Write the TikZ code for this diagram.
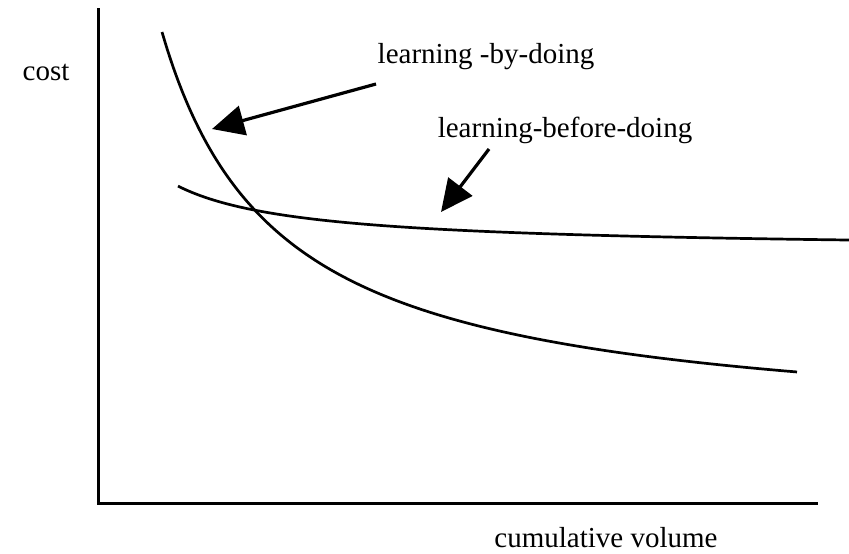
\documentclass[tikz,border=0pt]{standalone}
\usepackage{fontspec}
\setmainfont{Liberation Serif}
\usetikzlibrary{arrows.meta}
\begin{document}
\begin{tikzpicture}[x=0.5pt,y=-0.5pt,
  axis/.style={line width=1.5pt},
  curve/.style={line width=1.35pt},
  pointer/.style={line width=1.6pt,-{Triangle[length=16pt,width=15pt]}},
  lbl/.style={font=\fontsize{14.5}{17}\selectfont,inner sep=0pt}]
\useasboundingbox (0,0) rectangle (849,553);
% axes
\coordinate (O) at (98,503);
\coordinate (Ytop) at (98,9);
\coordinate (Xend) at (816,503);
\draw[axis,line cap=rect] (Ytop) -- (O) -- (Xend);
% learning-by-doing curve
\draw[curve] plot[domain=162:797,samples=120,smooth] (\x,{434.6-471/((\x-45)/100)});
% learning-before-doing curve
\draw[curve] plot[domain=178:849,samples=120,smooth] (\x,{250.3-82.2/((\x-50)/100)});
% labels
\node[lbl] (cost) at (46,72) {cost};
\node[lbl] (lbd) at (486,57) {learning -by-doing};
\node[lbl] (lbfd) at (565,130) {learning-before-doing};
\node[lbl] (vol) at (606,538) {cumulative volume};
% pointers
\coordinate (p1s) at (376,84);
\coordinate (p1e) at (212,129);
\coordinate (p2s) at (489,149);
\coordinate (p2e) at (441,212);
\draw[pointer] (p1s) -- (p1e);
\draw[pointer] (p2s) -- (p2e);
\end{tikzpicture}
\end{document}
